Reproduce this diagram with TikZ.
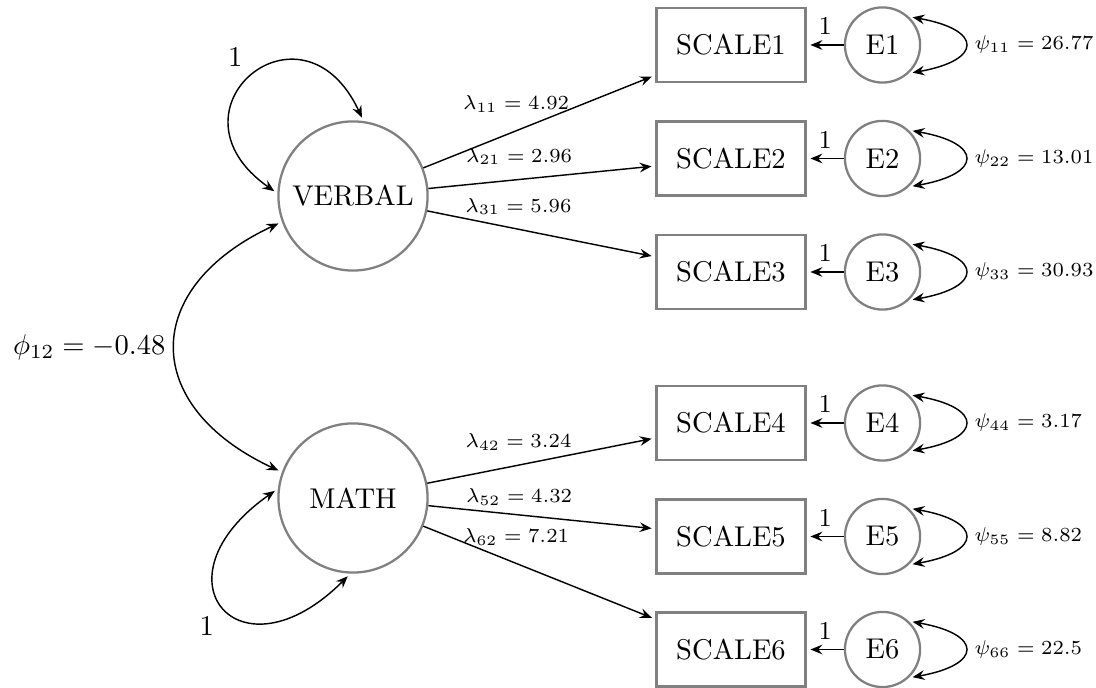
\documentclass[tikz,border=0pt]{standalone}
\usetikzlibrary{arrows.meta}
\begin{document}
\begin{tikzpicture}[x=0.35pt,y=0.35pt,
  latent/.style={circle, draw=gray, thick, minimum size=52.2pt, inner sep=0pt},
  obs/.style={rectangle, draw=gray, thick, minimum width=52.2pt, minimum height=25.9pt, inner sep=0pt},
  err/.style={circle, draw=gray, thick, minimum size=26.3pt, inner sep=0pt},
  tipa/.tip={Stealth[length=4.2pt,width=3.4pt,inset=1.5pt]},
  conn/.style={line width=0.5pt, -tipa, shorten >=1.3pt},
  cov/.style={line width=0.5pt, tipa-tipa, shorten >=1.3pt, shorten <=1.3pt},
  lblfont/.style={font=\fontsize{7.5pt}{9pt}\selectfont},
  lam/.style={lblfont, anchor=base, pos=0.4},
  one/.style={font=\small, anchor=base, midway, yshift=3.6pt},
  psi/.style={lblfont, right, pos=0.5}
]
\useasboundingbox (0,0) rectangle (1096,688);

\node[latent] (V) at (353,492) {VERBAL};
\node[latent] (M) at (353,190) {MATH};

\node[obs] (S1) at (731,643) {SCALE1};
\node[obs] (S2) at (731,529.5) {SCALE2};
\node[obs] (S3) at (731,416) {SCALE3};
\node[obs] (S4) at (731,265) {SCALE4};
\node[obs] (S5) at (731,151.5) {SCALE5};
\node[obs] (S6) at (731,38.5) {SCALE6};

\node[err] (E1) at (882.5,643) {E1};
\node[err] (E2) at (882.5,529.5) {E2};
\node[err] (E3) at (882.5,416) {E3};
\node[err] (E4) at (882.5,265) {E4};
\node[err] (E5) at (882.5,151.5) {E5};
\node[err] (E6) at (882.5,38.5) {E6};

% loadings
\draw[conn] (V) -- node[lam, yshift=7.5pt] {$\lambda_{11} = 4.92$} (S1);
\draw[conn] (V) -- node[lam, yshift=6.1pt] {$\lambda_{21} = 2.96$} (S2);
\draw[conn] (V) -- node[lam, yshift=6pt] {$\lambda_{31} = 5.96$} (S3);
\draw[conn] (M) -- node[lam, yshift=6.3pt] {$\lambda_{42} = 3.24$} (S4);
\draw[conn] (M) -- node[lam, yshift=4.2pt] {$\lambda_{52} = 4.32$} (S5);
\draw[conn] (M) -- node[lam, yshift=7.2pt] {$\lambda_{62} = 7.21$} (S6);

% error paths
\draw[conn] (E1) -- node[one] {1} (S1);
\draw[conn] (E2) -- node[one] {1} (S2);
\draw[conn] (E3) -- node[one] {1} (S3);
\draw[conn] (E4) -- node[one] {1} (S4);
\draw[conn] (E5) -- node[one] {1} (S5);
\draw[conn] (E6) -- node[one] {1} (S6);

% error variances
\draw[cov] (E1.47) to[out=-10, in=10, looseness=3.4] node[psi] {$\psi_{11} = 26.77$} (E1.-47);
\draw[cov] (E2.47) to[out=-10, in=10, looseness=3.4] node[psi] {$\psi_{22} = 13.01$} (E2.-47);
\draw[cov] (E3.47) to[out=-10, in=10, looseness=3.4] node[psi] {$\psi_{33} = 30.93$} (E3.-47);
\draw[cov] (E4.47) to[out=-10, in=10, looseness=3.4] node[psi] {$\psi_{44} = 3.17$} (E4.-47);
\draw[cov] (E5.47) to[out=-10, in=10, looseness=3.4] node[psi] {$\psi_{55} = 8.82$} (E5.-47);
\draw[cov] (E6.47) to[out=-10, in=10, looseness=3.4] node[psi] {$\psi_{66} = 22.5$} (E6.-47);

% factor variances and covariance
\draw[cov] (V.82) to[out=115, in=145, looseness=3.3] node[above left, pos=0.5] {1} (V.178);
\draw[cov] (M.173) to[out=215, in=225, looseness=3.6] node[below left, pos=0.5] {1} (M.268);
\draw[cov] (V.200) to[out=205, in=155, looseness=1.6] node[left] {$\phi_{12} = -0.48$} (M.160);
\end{tikzpicture}
\end{document}
